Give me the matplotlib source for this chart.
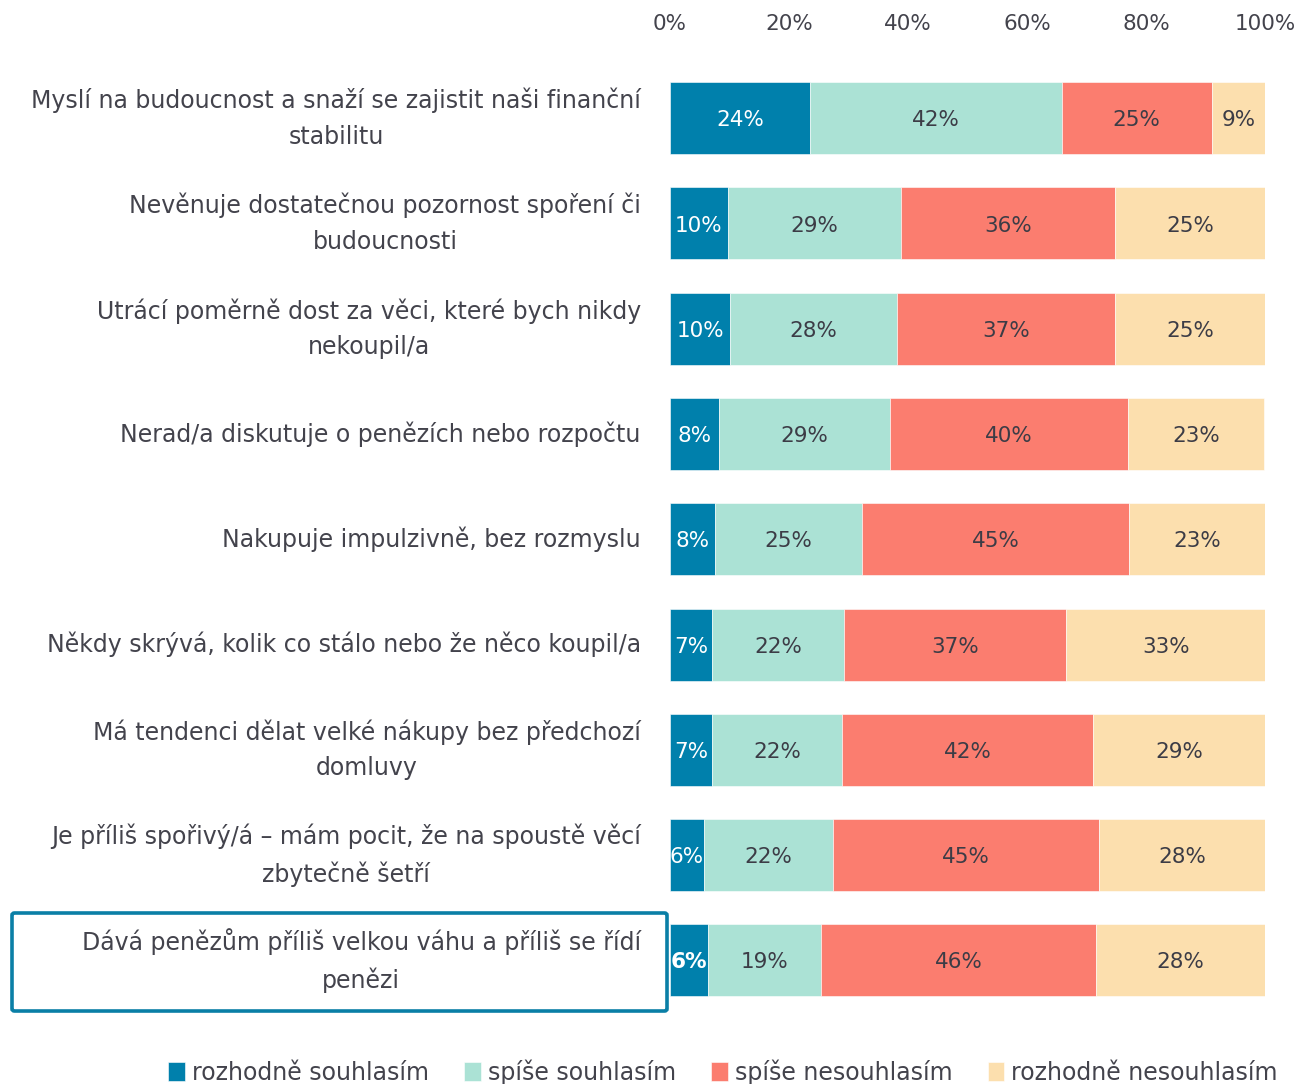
import numpy as np
import matplotlib.pyplot as plt
from matplotlib.patches import FancyBboxPatch

plt.rcParams['font.family'] = ['DejaVu Sans']

categories = [
    'Myslí na budoucnost a snaží se zajistit naši finanční\nstabilitu',
    'Nevěnuje dostatečnou pozornost spoření či\nbudoucnosti',
    'Utrácí poměrně dost za věci, které bych nikdy\nnekoupil/a',
    'Nerad/a diskutuje o penězích nebo rozpočtu',
    'Nakupuje impulzivně, bez rozmyslu',
    'Někdy skrývá, kolik co stálo nebo že něco koupil/a',
    'Má tendenci dělat velké nákupy bez předchozí\ndomluvy',
    'Je příliš spořivý/á – mám pocit, že na spoustě věcí\nzbytečně šetří',
    'Dává penězům příliš velkou váhu a příliš se řídí\npenězi',
]

series_names = ['rozhodně souhlasím', 'spíše souhlasím', 'spíše nesouhlasím', 'rozhodně nesouhlasím']

rozhodne_souhlasim = [23.6, 9.7, 10.1, 8.2, 7.6, 7.1, 7.1, 5.7, 6.4]
spise_souhlasim = [42.2, 29.1, 28.1, 28.7, 24.6, 22.2, 21.8, 21.7, 19.0]
spise_nesouhlasim = [25.3, 36.0, 36.6, 40.0, 45.0, 37.3, 42.2, 44.7, 46.2]
rozhodne_nesouhlasim = [8.9, 25.2, 25.2, 23.0, 22.8, 33.4, 28.9, 27.9, 28.4]

colors = ['#0080AC', '#ABE2D5', '#FB7D6F', '#FCDFAE']
text_colors = ['white', '#3C3C46', '#3C3C46', '#3C3C46']
dark = '#43434C'
fs = 15.5
fs_cat = 17

fig = plt.figure(figsize=(12.95, 10.84), dpi=100)
ax = fig.add_axes([670 / 1295, 1 - 1013 / 1084, 595 / 1295, 947.5 / 1084])

y = np.arange(len(categories))
left = np.zeros(len(categories))
data = [rozhodne_souhlasim, spise_souhlasim, spise_nesouhlasim, rozhodne_nesouhlasim]
for i, vals in enumerate(data):
    vals = np.array(vals)
    bars = ax.barh(y, vals, left=left, height=0.684, color=colors[i],
                   edgecolor='white', linewidth=0.4, label=series_names[i])
    for j, b in enumerate(bars):
        bold = (i == 0 and j == len(categories) - 1)
        ax.text(left[j] + vals[j] / 2, y[j] + 0.02, f'{round(vals[j]):.0f}%',
                ha='center', va='center', fontsize=fs, color=text_colors[i],
                fontweight='bold' if bold else 'normal')
    left += vals

ax.set_xlim(0, 100)
ax.set_ylim(len(categories) - 0.5, -0.5)
ax.xaxis.tick_top()
ax.set_xticks(np.arange(0, 101, 20))
ax.set_xticklabels([f'{t}%' for t in range(0, 101, 20)])
ax.tick_params(axis='x', length=0, pad=23, labelsize=fs, labelcolor=dark)
ax.set_yticks(y)
ax.set_yticklabels(categories, multialignment='center', linespacing=1.6)
ax.tick_params(axis='y', length=0, pad=21, labelsize=fs_cat, labelcolor=dark)
for lbl in ax.get_yticklabels():
    lbl.set_va('center')
for s in ax.spines.values():
    s.set_visible(False)

# highlight box around the last category
box = FancyBboxPatch((12 / 1295, 1 - 1011 / 1084), 655 / 1295, 98 / 1084,
                     boxstyle='round,pad=0,rounding_size=0.002',
                     transform=fig.transFigure, fill=False,
                     edgecolor='#0A7FA6', linewidth=2.6, clip_on=False)
fig.patches.append(box)

fig.legend(loc='center', bbox_to_anchor=(723 / 1295, 1 - 1072 / 1084), ncol=4,
           frameon=False, fontsize=fs_cat, handlelength=0.7, handleheight=0.9,
           handletextpad=0.3, columnspacing=1.5, labelcolor=dark)

fig.savefig('out.png', dpi=100)
